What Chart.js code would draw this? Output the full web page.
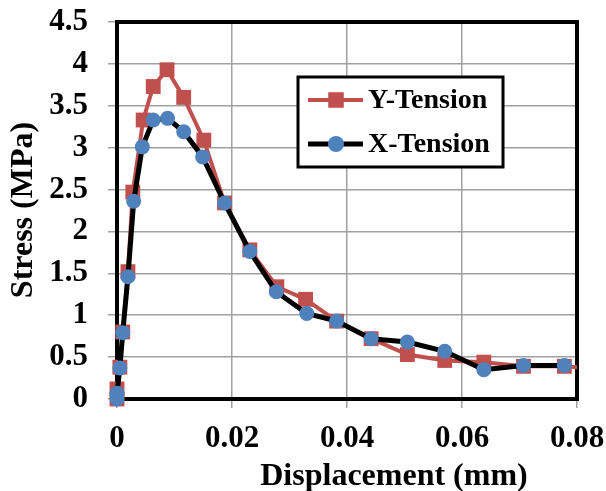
<!DOCTYPE html>
<html>
<head>
<meta charset="utf-8">
<script src="https://cdn.jsdelivr.net/npm/chart.js@4.4.1/dist/chart.umd.min.js"></script>
<style>
    html, body { margin: 0; padding: 0; background: #fff; }
    #wrap { width: 606px; height: 491px; }
</style>
</head>
<body>
<div id="wrap"><canvas id="chart" width="606" height="491"></canvas></div>
<script>
// ---------------------------------------------------------------
// Stress vs Displacement — Y-Tension / X-Tension
// ---------------------------------------------------------------

// Datos (desplazamiento en mm, esfuerzo en MPa)
const yTensionDisp = [0, 0, 0.0005, 0.001, 0.0019, 0.00275, 0.00455, 0.0063, 0.0087, 0.0116, 0.0151, 0.0187, 0.0231, 0.0278, 0.0328, 0.0382, 0.0442, 0.0505, 0.057, 0.0638, 0.0707, 0.0778, 0.0815];
const yTensionStress = [0, 0.12, 0.38, 0.8, 1.52, 2.47, 3.33, 3.73, 3.93, 3.6, 3.09, 2.34, 1.78, 1.34, 1.19, 0.93, 0.72, 0.53, 0.46, 0.44, 0.39, 0.39, 0.37];

const xTensionDisp = [0, 0, 0.0005, 0.001, 0.0019, 0.0029, 0.0044, 0.0063, 0.0088, 0.0116, 0.0149, 0.0187, 0.0231, 0.0277, 0.033, 0.0382, 0.0442, 0.0505, 0.057, 0.0638, 0.0707, 0.0778];
const xTensionStress = [0, 0.07, 0.37, 0.79, 1.46, 2.36, 3.01, 3.33, 3.35, 3.19, 2.89, 2.34, 1.76, 1.28, 1.02, 0.93, 0.72, 0.68, 0.57, 0.35, 0.4, 0.4];

// Marcas de los ejes
const xTickValues = [0, 0.02, 0.04, 0.06, 0.08];
const yTickValues = [0, 0.5, 1, 1.5, 2, 2.5, 3, 3.5, 4, 4.5];

const RED = '#C0504D';
const BLUE = '#4F81BD';
const GRID = '#a0a0a0';
const SERIF = '"Times New Roman", "Liberation Serif", serif';

function toPoints(xs, ys) {
    return xs.map((x, i) => ({ x, y: ys[i] }));
}

// Marco del área de trazado, títulos de ejes y leyenda dentro del gráfico
const framePlugin = {
    id: 'frame',
    beforeDatasetsDraw(chart) {
        const { ctx, chartArea: a } = chart;
        ctx.save();
        ctx.strokeStyle = '#000';
        ctx.lineWidth = 4;
        ctx.strokeRect(a.left, a.top, a.right - a.left, a.bottom - a.top);
        ctx.restore();
    },
    afterDraw(chart) {
        const { ctx } = chart;
        ctx.save();
        ctx.fillStyle = '#000';
        ctx.font = 'bold 32px ' + SERIF;
        ctx.textAlign = 'center';
        ctx.textBaseline = 'middle';
        ctx.fillText('Displacement (mm)', 394, 477);
        ctx.translate(24, 210);
        ctx.rotate(-Math.PI / 2);
        ctx.fillText('Stress (MPa)', 0, 0);
        ctx.restore();

        // Leyenda
        const box = { x: 298, y: 77, w: 205, h: 90 };
        ctx.save();
        ctx.fillStyle = '#fff';
        ctx.fillRect(box.x, box.y, box.w, box.h);
        ctx.strokeStyle = '#000';
        ctx.lineWidth = 3;
        ctx.strokeRect(box.x, box.y, box.w, box.h);
        chart.data.datasets.forEach((ds, i) => {
            const cy = box.y + 23 + i * 44;
            ctx.strokeStyle = ds.borderColor;
            ctx.lineWidth = ds.borderWidth;
            ctx.beginPath();
            ctx.moveTo(308, cy);
            ctx.lineTo(363, cy);
            ctx.stroke();
            ctx.fillStyle = ds.pointBackgroundColor;
            Chart.helpers.drawPoint(ctx, { pointStyle: ds.pointStyle, radius: ds.legendRadius, borderWidth: 0 }, 336, cy);
            ctx.fillStyle = '#000';
            ctx.font = 'bold 28px ' + SERIF;
            ctx.textAlign = 'left';
            ctx.textBaseline = 'middle';
            ctx.fillText(ds.label, 368, cy + 1);
        });
        ctx.restore();
    }
};

new Chart(document.getElementById('chart'), {
    type: 'line',
    data: {
        datasets: [
            {
                label: 'Y-Tension', data: toPoints(yTensionDisp, yTensionStress),
                borderColor: RED, borderWidth: 4, pointStyle: 'rect', pointRadius: 10.5, legendRadius: 11,
                pointBackgroundColor: RED, pointBorderWidth: 0, order: 2,
                clip: { left: 20, top: 10, right: 0, bottom: 20 }
            },
            {
                label: 'X-Tension', data: toPoints(xTensionDisp, xTensionStress),
                borderColor: '#000', borderWidth: 5, pointStyle: 'circle', pointRadius: 7.5, legendRadius: 8,
                pointBackgroundColor: BLUE, pointBorderWidth: 0, order: 1,
                clip: { left: 20, top: 10, right: 0, bottom: 20 }
            }
        ]
    },
    options: {
        responsive: false,
        animation: false,
        parsing: false,
        layout: { padding: { top: 22, right: 29, left: 0, bottom: 0 } },
        plugins: { legend: { display: false }, tooltip: { enabled: false } },
        scales: {
            x: {
                type: 'linear', min: 0, max: 0.08,
                afterBuildTicks: (s) => { s.ticks = xTickValues.map(v => ({ value: v })); },
                afterFit: (s) => { s.height = 92; s.paddingLeft = 0; s.paddingRight = 0; },
                grid: { color: GRID, lineWidth: 1.5, tickLength: 9, tickColor: GRID },
                border: { display: false },
                ticks: { color: '#000', padding: 12, maxRotation: 0, font: { family: SERIF, size: 31, weight: 'bold' }, callback: (v) => String(+v.toFixed(2)) }
            },
            y: {
                type: 'linear', min: 0, max: 4.5,
                afterBuildTicks: (s) => { s.ticks = yTickValues.map(v => ({ value: v })); },
                afterFit: (s) => { s.width = 117; s.paddingTop = 0; s.paddingBottom = 0; },
                grid: { color: GRID, lineWidth: 1.5, tickLength: 9, tickColor: GRID },
                border: { display: false },
                ticks: { color: '#000', padding: 20, font: { family: SERIF, size: 31, weight: 'bold' }, callback: (v) => String(+v.toFixed(2)) }
            }
        }
    },
    plugins: [framePlugin]
});
</script>
</body>
</html>
